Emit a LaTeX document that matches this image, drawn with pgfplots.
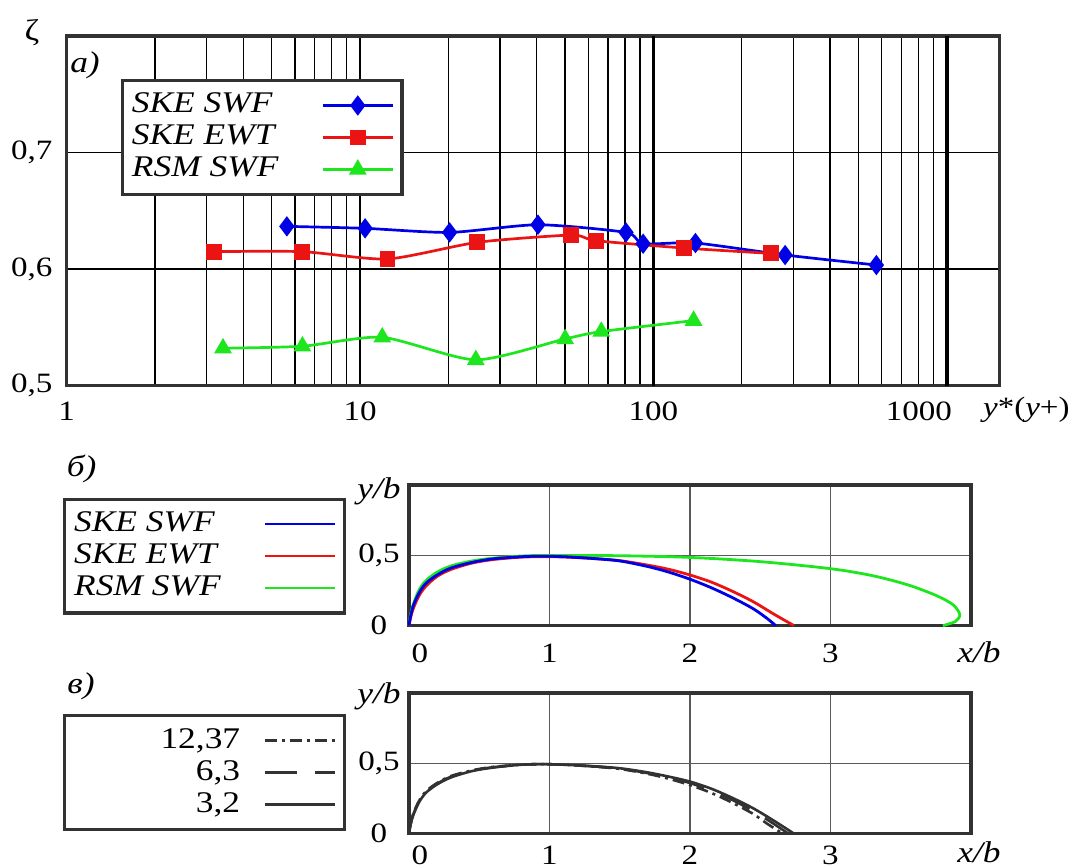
\documentclass[border=0pt]{standalone}
\usepackage{pgfplots}
\pgfplotsset{compat=1.18}
\usepackage{fontspec}
\setmainfont{Liberation Serif}[FakeStretch=1.18]
\definecolor{cgreen}{RGB}{30,230,30}
\definecolor{cblue}{RGB}{0,0,230}
\definecolor{cred}{RGB}{235,20,20}
\definecolor{frame}{RGB}{50,50,50}
\definecolor{gridg}{RGB}{90,90,90}
\newcommand{\fa}{\fontsize{14}{17}\selectfont}
\newcommand{\fb}{\fontsize{14}{17}\selectfont}
\newcommand{\fl}{\fontsize{15}{18}\selectfont}
\pgfplotsset{
  mylegend/.style={
    legend cell align=left,
    legend plot pos=right,
    legend style={draw=frame, line width=1.7pt, fill=white,
      inner xsep=4pt, inner ysep=4.4pt, /tikz/column sep=11pt,
      nodes={inner sep=0.75pt, text height=11pt, text depth=3.5pt, font=\fl}},
  },
  markimg/.style={legend image code/.code={\draw[mark repeat=2,mark phase=2,##1] plot coordinates {(0pt,0pt) (17.5pt,0pt) (35pt,0pt)};}},
  lineimg/.style={legend image code/.code={\draw[##1] (0pt,0pt) -- (35pt,0pt);}},
}
\begin{document}
\begin{tikzpicture}
% ---------------- panel a ----------------
\begin{axis}[
  at={(33.35pt,-18pt)}, anchor=north west,
  scale only axis, width=466.5pt, height=174.75pt,
  xmode=log, xmin=1, xmax=1514, ymin=0.5, ymax=0.8,
  xtick={1,10,100,1000}, xticklabels={1,10,100,1000\kern28pt},
  minor xtick={2,3,4,5,6,7,8,9,20,30,40,50,60,70,80,90,200,300,400,500,600,700,800,900},
  ytick={0.5,0.6,0.7}, yticklabels={{0,5},{0,6},{0,7}},
  xmajorgrids, xminorgrids, ymajorgrids,
  major grid style={black, line width=0.9pt},
  minor grid style={black, line width=0.7pt},
  extra x ticks={100,1000}, extra x tick labels={},
  extra x tick style={xmajorgrids=true, major grid style={black, line width=1.7pt}},
  major tick length=0pt, minor tick length=0pt,
  axis line style={line width=1.7pt, frame},
  ticklabel style={font=\fa},
  xticklabel style={anchor=center, yshift=-13pt},
  yticklabel style={anchor=east, inner sep=0pt, xshift=-7pt},
  mylegend, markimg,
  legend style={at={(axis description cs:0.0579,0.877)}, anchor=north west, nodes={font=\fl\itshape}},
  clip=false,
]
\addplot[cblue, line width=1.35pt, smooth, tension=0.4, mark=diamond*, mark size=4pt, mark options={solid}]
 coordinates {(5.63,0.6366) (10.4,0.6349) (20.2,0.6314) (40.4,0.638) (80.6,0.6314) (92.2,0.6217) (139,0.6223) (281,0.612) (575,0.6034)};
\addlegendentry{\makebox[83pt][l]{SKE SWF}}
\addplot[cred, line width=1.35pt, smooth, tension=0.4, mark=square*, mark size=3.3pt, mark options={solid}]
 coordinates {(3.18,0.6149) (6.36,0.6149) (12.4,0.6086) (25.1,0.6229) (52.5,0.6291) (63.7,0.6243) (127,0.618) (251,0.6134)};
\addlegendentry{\makebox[83pt][l]{SKE EWT}}
\addplot[cgreen, line width=1.35pt, smooth, tension=0.4, mark=triangle*, mark size=3.8pt, mark options={solid}]
 coordinates {(3.41,0.532) (6.36,0.5337) (11.9,0.5414) (24.8,0.522) (50,0.540) (66.4,0.5463) (137,0.5557)};
\addlegendentry{\makebox[83pt][l]{RSM SWF}}
\node[font=\fl\itshape] at (axis description cs:0.0196,0.917) {а)};
\node[font=\fa, anchor=west] at (axis description cs:0.9746,-0.070) {\textit{y}*(\textit{y}+)};
\end{axis}
\node[font=\fontsize{15}{18}\selectfont] at (16pt,-16.5pt) {ζ};
% ---------------- panel b ----------------
\begin{axis}[
  at={(204.5pt,-242.5pt)}, anchor=north west,
  scale only axis, width=281pt, height=70.3pt,
  xmin=0, xmax=4, ymin=0, ymax=1,
  xtick={0,1,2,3}, xticklabels={\kern11pt 0,1,2,3},
  ytick={0,0.5}, yticklabels={0,{0,5}},
  grid=major, major grid style={gridg, line width=0.6pt},
  major tick length=0pt,
  axis line style={line width=1.7pt, frame},
  ticklabel style={font=\fb},
  xticklabel style={anchor=center, yshift=-13.75pt},
  yticklabel style={anchor=center, xshift=-15pt},
  mylegend, lineimg, reverse legend,
  legend style={at={(axis description cs:-0.6157,0.911)}, anchor=north west, nodes={font=\fl\itshape}},
  clip=false,
]
\addplot[cgreen, line width=1.4pt, smooth, tension=0.5] coordinates {(0,0) (0.01,0.07) (0.03,0.15) (0.07,0.25) (0.12,0.32) (0.2,0.38) (0.3,0.425) (0.45,0.46) (0.6,0.48) (0.8,0.495) (1.0,0.499) (1.5,0.497) (2.0,0.485) (2.5,0.455) (3.0,0.405) (3.3,0.355) (3.55,0.29) (3.75,0.215) (3.87,0.15) (3.92,0.08) (3.89,0.03) (3.8,0)};
\addlegendentry{\makebox[83pt][l]{RSM SWF}}
\addplot[cred, line width=1.4pt, smooth, tension=0.5] coordinates {(0,0) (0.01,0.05) (0.03,0.12) (0.07,0.21) (0.12,0.28) (0.2,0.35) (0.3,0.4) (0.45,0.445) (0.6,0.47) (0.8,0.487) (0.95,0.49) (1.1,0.488) (1.3,0.478) (1.5,0.462) (1.7,0.43) (1.85,0.4) (2.0,0.36) (2.15,0.31) (2.3,0.245) (2.45,0.17) (2.6,0.08) (2.74,0)};
\addlegendentry{\makebox[83pt][l]{SKE EWT}}
\addplot[cblue, line width=1.4pt, smooth, tension=0.5] coordinates {(0,0) (0.01,0.06) (0.03,0.14) (0.07,0.23) (0.12,0.3) (0.2,0.36) (0.3,0.41) (0.45,0.45) (0.6,0.475) (0.8,0.49) (0.95,0.494) (1.1,0.49) (1.3,0.478) (1.5,0.46) (1.7,0.42) (1.85,0.38) (2.0,0.33) (2.15,0.27) (2.3,0.2) (2.45,0.12) (2.55,0.05) (2.61,0)};
\addlegendentry{\makebox[83pt][l]{SKE SWF}}
\node[font=\fl\itshape] at (axis description cs:-0.0534,0.952) {y/b};
\node[font=\fl\itshape] at (axis description cs:1.0142,-0.187) {x/b};
\end{axis}
\node[font=\fl\itshape] at (40.85pt,-234.5pt) {б)};
% ---------------- panel v ----------------
\begin{axis}[
  at={(204.5pt,-346.5pt)}, anchor=north west,
  scale only axis, width=281pt, height=70.3pt,
  xmin=0, xmax=4, ymin=0, ymax=1,
  xtick={0,1,2,3}, xticklabels={\kern11pt 0,1,2,3},
  ytick={0,0.5}, yticklabels={0,{0,5}},
  grid=major, major grid style={gridg, line width=0.6pt},
  major tick length=0pt,
  axis line style={line width=1.7pt, frame},
  ticklabel style={font=\fb},
  xticklabel style={anchor=center, yshift=-11pt},
  yticklabel style={anchor=center, xshift=-15pt},
  mylegend, lineimg,
  legend style={at={(axis description cs:-0.6157,0.85)}, anchor=north west, nodes={font=\fl}},
  clip=false,
]
\addplot[frame, line width=1.3pt, smooth, tension=0.5, dash pattern=on 6pt off 2.5pt on 1.5pt off 2.5pt] coordinates {(0,0) (0.01,0.06) (0.03,0.14) (0.07,0.23) (0.12,0.3) (0.2,0.36) (0.3,0.41) (0.45,0.45) (0.6,0.475) (0.8,0.49) (0.95,0.494) (1.1,0.49) (1.3,0.478) (1.5,0.46) (1.7,0.425) (1.85,0.39) (2.0,0.345) (2.15,0.29) (2.3,0.22) (2.45,0.14) (2.55,0.07) (2.66,0)};
\addlegendentry{\makebox[83pt][r]{12,37}}
\addplot[frame, line width=1.3pt, smooth, tension=0.5, dash pattern=on 16pt off 9pt] coordinates {(0,0) (0.01,0.06) (0.03,0.135) (0.07,0.225) (0.12,0.295) (0.2,0.355) (0.3,0.405) (0.45,0.448) (0.6,0.472) (0.8,0.49) (0.95,0.494) (1.1,0.49) (1.3,0.479) (1.5,0.462) (1.7,0.43) (1.85,0.398) (2.0,0.36) (2.15,0.305) (2.3,0.24) (2.45,0.16) (2.58,0.08) (2.7,0)};
\addlegendentry{\makebox[83pt][r]{6,3}}
\addplot[frame, line width=1.3pt, smooth, tension=0.5] coordinates {(0,0) (0.01,0.06) (0.03,0.13) (0.07,0.22) (0.12,0.29) (0.2,0.35) (0.3,0.4) (0.45,0.445) (0.6,0.47) (0.8,0.49) (0.95,0.494) (1.1,0.49) (1.3,0.48) (1.5,0.465) (1.7,0.435) (1.85,0.405) (2.0,0.37) (2.15,0.32) (2.3,0.255) (2.45,0.18) (2.6,0.09) (2.74,0)};
\addlegendentry{\makebox[83pt][r]{3,2}}
\node[font=\fl] at (axis description cs:-0.518,0.436) {\textit{y}+};
\node[font=\fl\itshape] at (axis description cs:-0.0534,0.975) {y/b};
\node[font=\fl\itshape] at (axis description cs:1.0142,-0.13) {x/b};
\end{axis}
\node[font=\fl\itshape] at (40.5pt,-343pt) {в)};
\pgfresetboundingbox
\useasboundingbox (0,0) rectangle (536pt,-434pt);
\end{tikzpicture}
\end{document}
